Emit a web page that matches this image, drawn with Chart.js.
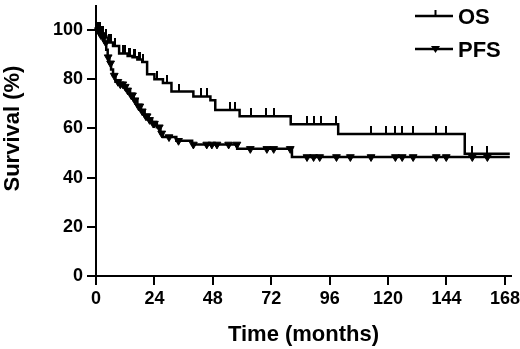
<!DOCTYPE html>
<html>
<head>
<meta charset="utf-8">
<script src="https://cdn.jsdelivr.net/npm/chart.js@4"></script>
<style>
  html, body { margin: 0; padding: 0; background: #fff; }
  #wrap { width: 520px; height: 349px; }
</style>
</head>
<body>
<div id="wrap"><canvas id="km" width="520" height="349"></canvas></div>
<script>
// Kaplan-Meier steps: time (months) and survival (%) after each drop
const osTimes = [0, 2, 3.5, 5, 7, 9.5, 13, 15, 17, 19, 21, 24, 27.5, 31, 40, 47, 49, 59, 80, 99.5, 151.5, 170];
const osSurv = [100, 98.5, 97, 95, 93.5, 90.5, 89.5, 89, 88, 87, 82, 80, 78.5, 75, 73, 71.5, 67.5, 65, 61.7, 57.7, 49.7, 49.7];
const osCensored = [0.5, 1, 1.5, 2.5, 3, 4, 5.5, 6, 8, 11, 12, 13.5, 14, 15.5, 16, 17.5, 18, 19.5, 25, 29, 34, 43, 45.5,
  55, 57, 63.6, 69.8, 73, 86.7, 89.4, 92.5, 98.8, 113, 119.3, 123, 125.8, 130.3, 139.8, 143.9, 154.6, 160.8];

const pfsTimes = [0, 1.5, 2.5, 3.5, 4.2, 4.8, 5.5, 6.2, 7, 8, 9.5, 11.5, 12.5, 14, 15.5, 17, 18.5, 20, 21.5, 23, 25, 26.5, 27.5, 33, 39.5, 58, 80.5, 170];
const pfsSurv = [100, 98, 97, 95, 92, 89, 86.5, 84, 81.5, 79, 78, 77, 75.5, 73.5, 71.5, 69, 67, 65, 63.5, 62, 60.5, 58, 56.5, 55, 53.5, 51.7, 48.4, 48.4];
const pfsCensored = [1, 2, 3, 4, 5, 6, 7.5, 9, 10, 11, 12, 13, 14.5, 15, 16, 17.5, 18, 19, 20.5, 21, 22, 23.5, 24, 26, 27,
  30, 33.9, 40, 45.5, 47.6, 49.7, 54.5, 57.9, 63.4, 70.2, 73, 79.8,
  86.7, 89.4, 91.9, 98.8, 104.5, 113, 123, 125.8, 130.3, 139.8, 143.9, 154.6, 160.8];

const xTicks = [0, 24, 48, 72, 96, 120, 144, 168];
const yTicks = [0, 20, 40, 60, 80, 100];
const seriesNames = ['OS', 'PFS'];

const FONT = "'Liberation Sans', Arial, sans-serif";

function steps(times, surv) {
  return times.map((t, i) => ({ x: t, y: surv[i] }));
}

// value of the step curve at time t
function survAt(times, surv, t) {
  let s = surv[0];
  for (let i = 0; i < times.length; i++) {
    if (times[i] <= t) s = surv[i];
  }
  return s;
}

function censorPoints(cens, times, surv) {
  return cens.map(t => ({ x: t, y: survAt(times, surv, t) }));
}

// small upward tick for OS censored patients
const tick = document.createElement('canvas');
tick.width = 2;
tick.height = 16;
const tctx = tick.getContext('2d');
tctx.fillStyle = '#000';
tctx.fillRect(0, 0, 2, 8);

const legendPlugin = {
  id: 'kmLegend',
  afterDraw(chart) {
    const ctx = chart.ctx;
    ctx.save();
    ctx.strokeStyle = '#000';
    ctx.fillStyle = '#000';
    ctx.lineWidth = 2.5;
    const rows = [16, 49];
    rows.forEach((y, i) => {
      ctx.beginPath();
      ctx.moveTo(415, y);
      ctx.lineTo(453, y);
      ctx.stroke();
      if (i === 0) {
        ctx.fillRect(434.5, y - 6, 2, 6);
      } else {
        ctx.beginPath();
        ctx.moveTo(431, y - 3);
        ctx.lineTo(440, y - 3);
        ctx.lineTo(435.5, y + 4);
        ctx.closePath();
        ctx.fill();
      }
      ctx.font = 'bold 22px ' + FONT;
      ctx.textBaseline = 'middle';
      ctx.textAlign = 'left';
      ctx.fillText(seriesNames[i], 458, y + 2);
    });
    ctx.restore();
  }
};

new Chart(document.getElementById('km'), {
  type: 'scatter',
  data: {
    datasets: [
      {
        label: seriesNames[0],
        data: steps(osTimes, osSurv),
        showLine: true,
        stepped: true,
        borderColor: '#000',
        borderWidth: 2.5,
        pointRadius: 0,
        clip: false
      },
      {
        label: seriesNames[0] + ' censored',
        data: censorPoints(osCensored, osTimes, osSurv),
        showLine: false,
        pointStyle: tick,
        pointRadius: 3,
        clip: false
      },
      {
        label: seriesNames[1],
        data: steps(pfsTimes, pfsSurv),
        showLine: true,
        stepped: true,
        borderColor: '#000',
        borderWidth: 2.5,
        pointRadius: 0,
        clip: false
      },
      {
        label: seriesNames[1] + ' censored',
        data: censorPoints(pfsCensored, pfsTimes, pfsSurv),
        showLine: false,
        pointStyle: 'triangle',
        rotation: 180,
        pointRadius: 4.5,
        backgroundColor: '#000',
        borderColor: '#000',
        borderWidth: 1,
        clip: false
      }
    ]
  },
  options: {
    responsive: false,
    animation: false,
    events: [],
    layout: { padding: { top: 1, right: 9, left: 0, bottom: 0 } },
    plugins: {
      legend: { display: false },
      tooltip: { enabled: false }
    },
    scales: {
      x: {
        type: 'linear',
        min: 0,
        max: 170.5,
        afterBuildTicks: s => { s.ticks = xTicks.map(v => ({ value: v })); },
        afterFit: s => { s.height = 73; s.paddingLeft = 0; s.paddingRight = 0; },
        border: { color: '#000', width: 2 },
        grid: { drawOnChartArea: false, color: '#000', lineWidth: 2, tickLength: 9 },
        ticks: { color: '#000', padding: 3, font: { family: FONT, size: 18, weight: 'bold' } },
        title: {
          display: true,
          text: 'Time (months)',
          color: '#000',
          font: { family: FONT, size: 22, weight: 'bold' },
          padding: { top: 0, bottom: 1 }
        }
      },
      y: {
        type: 'linear',
        min: 0,
        max: 110,
        afterBuildTicks: s => { s.ticks = yTicks.map(v => ({ value: v })); },
        afterFit: s => { s.width = 96; s.paddingTop = 0; s.paddingBottom = 0; },
        border: { color: '#000', width: 2 },
        grid: { drawOnChartArea: false, color: '#000', lineWidth: 2, tickLength: 9 },
        ticks: { color: '#000', padding: 4, font: { family: FONT, size: 18, weight: 'bold' } },
        title: {
          display: true,
          text: '    Survival (%)',
          color: '#000',
          font: { family: FONT, size: 22, weight: 'bold' },
          padding: { top: 0, bottom: 0 }
        }
      }
    }
  },
  plugins: [legendPlugin]
});
</script>
</body>
</html>
